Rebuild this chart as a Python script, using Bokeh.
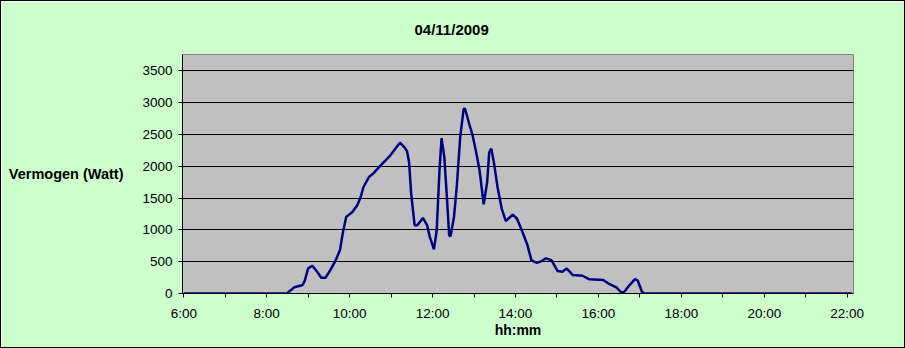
from bokeh.plotting import figure
from bokeh.models import FixedTicker, Range1d
from bokeh.embed import file_html
from bokeh.resources import INLINE

# ---- data ----
times = ["06:00", "08:29", "08:40", "08:52", "08:55", "09:00", "09:06", "09:13", "09:19",
         "09:25", "09:32", "09:40", "09:46", "09:50", "09:55", "10:04", "10:11", "10:16",
         "10:20", "10:28", "10:34", "10:45", "10:59", "11:08", "11:13", "11:19", "11:23",
         "11:26", "11:29", "11:34", "11:38", "11:46", "11:52", "11:56", "12:02", "12:06",
         "12:10", "12:13", "12:17", "12:21", "12:24", "12:26", "12:31", "12:35", "12:40",
         "12:45", "12:47", "12:53", "12:58", "13:03", "13:08", "13:14", "13:19", "13:22",
         "13:25", "13:29", "13:34", "13:40", "13:46", "13:50", "13:56", "14:02", "14:10",
         "14:17", "14:23", "14:30", "14:36", "14:44", "14:52", "15:01", "15:08", "15:14",
         "15:23", "15:37", "15:47", "16:07", "16:14", "16:26", "16:33", "16:37", "16:45",
         "16:53", "16:57", "17:03", "17:06", "22:07"]
watts = [0, 0, 97, 133, 200, 395, 436, 342, 248,
         248, 368, 525, 682, 943, 1204, 1282, 1387, 1517,
         1674, 1831, 1884, 2014, 2171, 2301, 2370, 2301, 2238,
         2066, 1570, 1074, 1074, 1188, 1074, 890, 693, 995,
         1936, 2442, 2144, 1466, 917, 901, 1204, 1674, 2458,
         2903, 2903, 2668, 2484, 2223, 1936, 1403, 1752, 2223,
         2276, 2041, 1674, 1335, 1136, 1179, 1241, 1179, 969,
         771, 525, 483, 498, 552, 525, 353, 342, 395,
         290, 279, 223, 212, 160, 97, 19, 19, 133,
         227, 200, 28, 0, 0]
y_ticks = [0, 500, 1000, 1500, 2000, 2500, 3000, 3500]
x_label_hours = [6, 8, 10, 12, 14, 16, 18, 20, 22]
x_minor_hours = [7, 9, 11, 13, 15, 17, 19, 21]
title_text = "04/11/2009"
y_title = "Vermogen (Watt)"
x_title = "hh:mm"

hours = [int(t[:2]) + int(t[3:]) / 60.0 for t in times]

BG = "#CCFFCC"
FONT = "Liberation Sans"
p = figure(width=903, height=346, output_backend="svg", toolbar_location=None,
           x_range=Range1d(5.969, 22.152), y_range=Range1d(0, 3756),
           min_border_left=181, min_border_right=51, min_border_top=53, min_border_bottom=54)
p.styles = {"margin": "1px", "outline": "1px solid black"}
p.background_fill_color = "#C0C0C0"
p.border_fill_color = BG
p.outline_line_color = "#808080"
p.outline_line_width = 1

# title centred on the whole chart (left-aligned with an offset from the frame's left edge)
p.title.text = title_text
p.title.align = "left"
p.title.offset = 232
p.title.standoff = 34
p.title.text_font = FONT
p.title.text_font_size = "15px"
p.title.text_font_style = "bold"
p.title.text_color = "black"

p.line(hours, watts, line_color="#000080", line_width=2.5)

# axes
p.xaxis.ticker = FixedTicker(ticks=x_label_hours, minor_ticks=x_minor_hours)
p.xaxis.major_label_overrides = {h: f"{h}:00" for h in x_label_hours}
p.yaxis.ticker = FixedTicker(ticks=y_ticks)
for ax in (p.xaxis[0], p.yaxis[0]):
    ax.axis_line_color = "black"
    ax.major_tick_line_color = "black"
    ax.major_tick_in = 0
    ax.major_tick_out = 4
    ax.minor_tick_line_color = "black"
    ax.minor_tick_in = 0
    ax.minor_tick_out = 4
    ax.major_label_text_font = FONT
    ax.major_label_text_font_size = "13.5px"
    ax.major_label_text_color = "black"
    ax.axis_label_text_font = FONT
    ax.axis_label_text_font_style = "bold"
    ax.axis_label_text_color = "black"
p.yaxis.minor_tick_line_color = None
p.yaxis.major_label_standoff = 6
p.xaxis.major_label_standoff = 8
p.xaxis.axis_label = x_title
p.xaxis.axis_label_text_font_size = "14px"
p.xaxis.axis_label_standoff = -2
p.yaxis.axis_label = y_title
p.yaxis.axis_label_text_font_size = "14.5px"
p.yaxis.axis_label_orientation = "horizontal"
p.yaxis.axis_label_standoff = 16

p.xgrid.grid_line_color = None
p.ygrid.ticker = FixedTicker(ticks=y_ticks)
p.ygrid.grid_line_color = "black"
p.ygrid.grid_line_width = 1

open("out.html", "w").write(file_html(p, INLINE))
